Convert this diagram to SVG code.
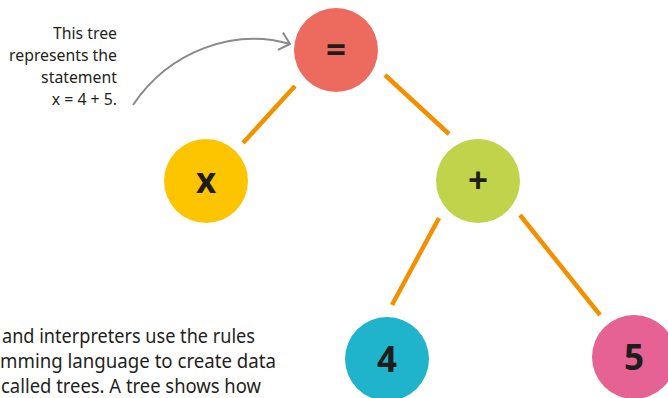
<svg xmlns="http://www.w3.org/2000/svg" width="668" height="398" viewBox="0 0 668 398">
<style>
.edge{stroke:#f29100;stroke-width:4.5;fill:none}
.lbl{font-family:"Noto Sans","Open Sans",sans-serif;font-weight:bold;font-size:35px;fill:#1d1d1b;text-anchor:middle}
.note{font-family:"Noto Sans","Open Sans",sans-serif;font-size:15.8px;fill:#231f20;text-anchor:end}
.body{font-family:"Noto Sans","Open Sans",sans-serif;font-size:20px;fill:#231f20}
</style>
<defs>
<marker id="chev" viewBox="0 0 12 20" refX="11" refY="10" markerWidth="12" markerHeight="20" markerUnits="userSpaceOnUse" orient="auto">
<path d="M1,1 L11,10 L1,19" fill="none" stroke="#8a8a8a" stroke-width="2"/>
</marker>
</defs>
<g id="connectors">
<line class="edge" x1="295" y1="86" x2="243" y2="143"/>
<line class="edge" x1="385" y1="75" x2="449" y2="134"/>
<line class="edge" x1="439" y1="218" x2="392" y2="305"/>
<line class="edge" x1="520" y1="215" x2="600" y2="315"/>
<path id="note-arrow" d="M133,105 C170,50 235,28 290,44" fill="none" stroke="#8a8a8a" stroke-width="2" marker-end="url(#chev)"/>
</g>
<g id="node-eq"><circle cx="336" cy="50" r="42" fill="#ec6a5e"/><text class="lbl" x="336" y="62">=</text></g>
<g id="node-x"><circle cx="206" cy="181" r="42" fill="#fdc500"/><text class="lbl" x="206" y="193">x</text></g>
<g id="node-plus"><circle cx="478" cy="181" r="42" fill="#c0d34b"/><text class="lbl" x="478" y="193">+</text></g>
<g id="node-4"><circle cx="387" cy="359" r="42" fill="#1fb4cb"/><text class="lbl" x="387" y="372">4</text></g>
<g id="node-5"><circle cx="634" cy="357" r="42" fill="#e66194"/><text class="lbl" x="634" y="370">5</text></g>
<g id="note">
<text class="note" x="117" y="39">This tree</text>
<text class="note" x="117" y="61">represents the</text>
<text class="note" x="117" y="83">statement</text>
<text class="note" x="117" y="105">x = 4 + 5.</text>
</g>
<g id="body-text">
<text class="body" x="2" y="343" textLength="253" lengthAdjust="spacingAndGlyphs">and interpreters use the rules</text>
<text class="body" x="0" y="368" textLength="276" lengthAdjust="spacingAndGlyphs">mming language to create data</text>
<text class="body" x="1" y="393" textLength="260" lengthAdjust="spacingAndGlyphs">called trees. A tree shows how</text>
</g>
</svg>
